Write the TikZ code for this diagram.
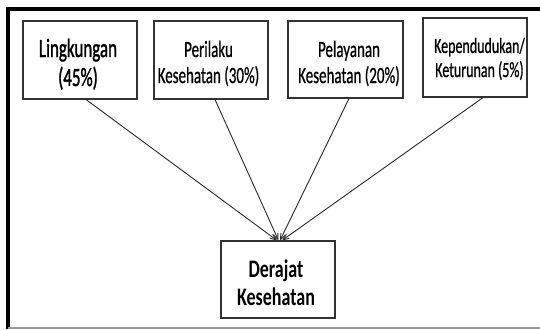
\documentclass[tikz,border=0pt]{standalone}
\usepackage{fontspec}
\setmainfont{Carlito}
\newfontfamily\medfont[FakeBold=0.9]{Carlito}
\newfontfamily\lmedfont[FakeBold=1.6]{Carlito}
\usepackage{graphicx}
\usetikzlibrary{calc,arrows.meta}
\newcommand{\stx}[4]{\scalebox{1}[#1]{\fontsize{#2}{#3}\selectfont\begin{tabular}{@{}c@{}}#4\end{tabular}}}
\definecolor{bordergray}{HTML}{333333}
\definecolor{linegray}{HTML}{2A2A2A}
\tikzset{
  box/.style={draw=bordergray, line width=1.1pt, fill=white, inner sep=0pt},
  lbl/.style={inner sep=0pt, text=black},
  conn/.style={draw=linegray, line width=0.9pt, -{Straight Barb[length=6pt,width=5pt]}},
}
\begin{document}
\begin{tikzpicture}[x=1pt,y=-1pt]
\useasboundingbox (0,0) rectangle (540,329);
\fill[white] (0,0) rectangle (540,329);
% frame
\draw[black, line width=4pt] (8,9) -- (540,9);
\draw[black, line width=4pt] (8,7) -- (8,329);
\draw[gray!80, line width=1.5pt] (8,328) -- (540,328);
% boxes
\node[box, minimum width=114pt, minimum height=78pt] (b1) at (80,60) {};
\node[box, minimum width=114pt, minimum height=78pt] (b2) at (211,60) {};
\node[box, minimum width=115pt, minimum height=77pt] (b3) at (345.5,59.5) {};
\node[box, minimum width=104pt, minimum height=79pt] (b4) at (475,57.5) {};
\node[box, minimum width=114pt, minimum height=77pt] (d) at (278,279.5) {};
% labels
\node[lbl] (t1) at (78,65.7) {\lmedfont\stx{1.55}{17}{18.7}{Lingkungan\\(45\%)}};
\node[lbl] (t2) at (208.5,64.8) {\medfont\stx{1.55}{15}{16.8}{Perilaku\\Kesehatan (30\%)}};
\node[lbl] (t3) at (349,64.8) {\medfont\stx{1.55}{15}{16.8}{Pelayanan\\Kesehatan (20\%)}};
\node[lbl] (t4) at (479.5,60.2) {\medfont\stx{1.55}{14}{15.5}{Kependudukan/\\Keturunan (5\%)}};
\node[lbl] (td) at (276,285.7) {\stx{1.4}{18}{20.7}{\bfseries Derajat\\\bfseries Kesehatan}};
% connectors
\draw[conn] ($(b1.south)+(6,0)$) -- ($(d.north)+(-1,0)$);
\draw[conn] ($(b2.south)+(4,0)$) -- ($(d.north)+(0.5,0)$);
\draw[conn] ($(b3.south)+(3.5,0)$) -- ($(d.north)+(2,0)$);
\draw[conn] ($(b4.south)+(8,0)$) -- ($(d.north)+(4,0)$);
\end{tikzpicture}
\end{document}
